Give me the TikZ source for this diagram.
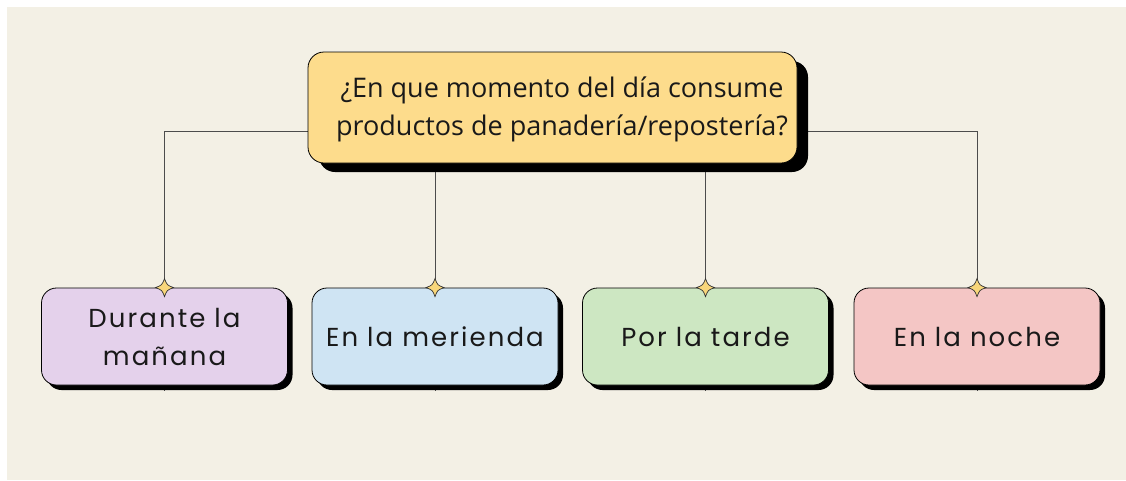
\documentclass[tikz,border=0pt]{standalone}
\usepackage{fontspec}
\setmainfont{Open Sans}
\newfontfamily\boxfont[LetterSpace=8]{Poppins}
\usetikzlibrary{shadows}
\definecolor{bgbeige}{HTML}{F3F0E5}
\definecolor{qyellow}{HTML}{FDDC8C}
\definecolor{lav}{HTML}{E4D1EB}
\definecolor{lblue}{HTML}{CFE4F3}
\definecolor{lgreen}{HTML}{CDE7C2}
\definecolor{lpink}{HTML}{F4C6C5}
\definecolor{staryellow}{HTML}{F8D67A}
\pgfdeclarelayer{back}
\pgfdeclarelayer{bg}
\pgfsetlayers{back,bg,main}
\begin{document}
\begin{tikzpicture}[x=1pt,y=-1pt,
  conn/.style={draw=black!70, line width=0.9pt},
  qbox/.style={draw=black, line width=0.8pt, fill=qyellow, rounded corners=16pt,
    minimum width=489pt, minimum height=111pt, inner sep=0pt,
    drop shadow={shadow xshift=11pt, shadow yshift=-9pt, fill=black, opacity=1}},
  abox/.style={draw=black, line width=0.8pt, rounded corners=15pt,
    minimum width=246pt, minimum height=97pt, inner sep=0pt,
    drop shadow={shadow xshift=5pt, shadow yshift=-5pt, fill=black, opacity=1},
    font=\boxfont\fontsize{26}{38}\selectfont, align=center, text=black!90},
  qtext/.style={font=\fontsize{27}{38}\selectfont, align=center, inner sep=0pt, text=black!90},
  sparkle/.pic={\path[draw=black!80, line width=0.7pt, fill=staryellow]
    (0,-9) .. controls (2.5,-2.5) .. (9,0) .. controls (2.5,2.5) .. (0,9)
    .. controls (-2.5,2.5) .. (-9,0) .. controls (-2.5,-2.5) .. cycle;}
]
\begin{pgfonlayer}{back}
  \fill[white] (0,0) rectangle (1126,480);
  \fill[bgbeige] (7,7) rectangle (1126,480);
\end{pgfonlayer}
\useasboundingbox (0,0) rectangle (1126,480);

\node[qbox] (qb) at (552.5,107.5) {};
\node[qtext] (q) at (562,109) {¿En que momento del día consume\\productos de panadería/repostería?};

\node[abox, fill=lav]    (b1) at (164.5,336.5) {Durante la\\mañana};
\node[abox, fill=lblue]  (b2) at (435,336.5)   {En la merienda};
\node[abox, fill=lgreen] (b3) at (705.5,336.5) {Por la tarde};
\node[abox, fill=lpink]  (b4) at (977,336.5)   {En la noche};

\begin{pgfonlayer}{bg}
  \draw[conn] ([yshift=-23.5pt]qb.west) -| ([yshift=-6pt]b1.south);
  \draw[conn] ([yshift=-23.5pt]qb.east) -| ([yshift=-6pt]b4.south);
  \draw[conn] (b2.north |- qb.south) -- ([yshift=-6pt]b2.south);
  \draw[conn] (b3.north |- qb.south) -- ([yshift=-6pt]b3.south);
\end{pgfonlayer}

\pic at (b1.north) {sparkle};
\pic at (b2.north) {sparkle};
\pic at (b3.north) {sparkle};
\pic at (b4.north) {sparkle};
\end{tikzpicture}
\end{document}
